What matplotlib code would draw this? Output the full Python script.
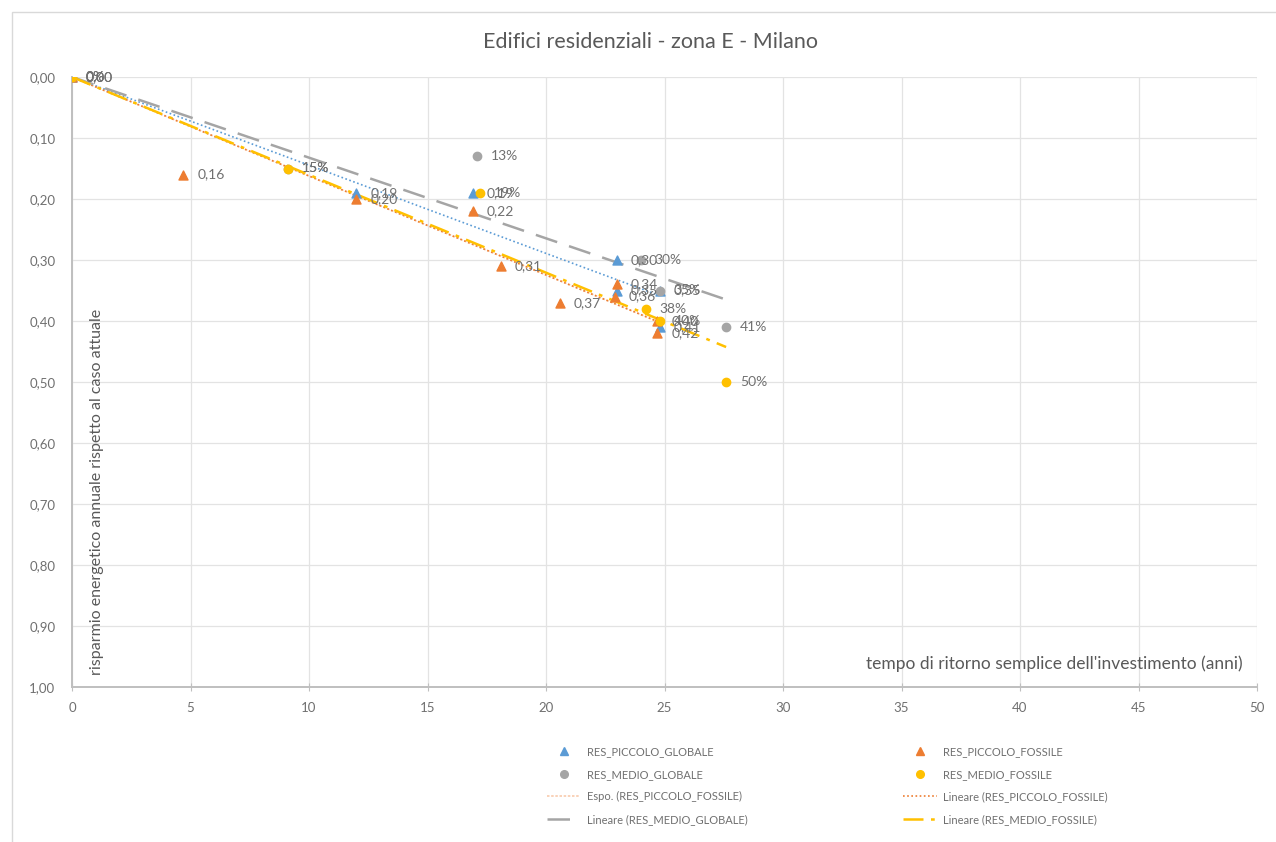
import numpy as np
import matplotlib.pyplot as plt
from matplotlib.patches import Rectangle
from matplotlib.lines import Line2D
from matplotlib.ticker import FuncFormatter

plt.rcParams['font.family'] = ['Lato', 'DejaVu Sans']

# tempo di ritorno (anni) e risparmio energetico per ciascuna serie
piccolo_globale_x = [0, 12.0, 16.9, 23.0, 23.0, 24.8, 24.8]
piccolo_globale_y = [0, 0.19, 0.19, 0.30, 0.35, 0.35, 0.41]

piccolo_fossile_x = [0, 4.7, 12.0, 16.9, 18.1, 20.6, 22.9, 23.0, 24.7, 24.7]
piccolo_fossile_y = [0, 0.16, 0.20, 0.22, 0.31, 0.37, 0.36, 0.34, 0.40, 0.42]

medio_globale_x = [0, 9.1, 17.1, 24.0, 24.8, 27.6]
medio_globale_y = [0, 0.15, 0.13, 0.30, 0.35, 0.41]

medio_fossile_x = [0, 9.1, 17.2, 24.2, 24.8, 27.6]
medio_fossile_y = [0, 0.15, 0.19, 0.38, 0.40, 0.50]

x_ticks = np.arange(0, 51, 5)
y_ticks = np.arange(0, 1.01, 0.1)

c_blue = '#5B9BD5'
c_orange = '#ED7D31'
c_gray = '#A5A5A5'
c_yellow = '#FFC000'
c_text = '#595959'
c_label = '#707070'


def slope_origin(x, y):
    # retta di tendenza con intercetta = 0
    x = np.asarray(x)
    y = np.asarray(y)
    return (x * y).sum() / (x * x).sum()


fig = plt.figure(figsize=(12.76, 8.42), dpi=100)
ax = fig.add_axes([72 / 1276, 1 - 687 / 842, (1257 - 72) / 1276, (687 - 77) / 842])

# cornice dell'area grafico
fig.patches.append(Rectangle((12 / 1276, -0.01), 1.2, 1 - 12 / 842 + 0.01,
                             transform=fig.transFigure, fill=False,
                             edgecolor='#D9D9D9', lw=1.0))

# rette di tendenza
def trend(x, y, **kw):
    k = slope_origin(x, y)
    xx = np.array([0, max(x)])
    return ax.plot(xx, k * xx, **kw)[0]

t_espo = trend(piccolo_fossile_x, piccolo_fossile_y, color='#F8CBAD', lw=1.2,
               linestyle=(0, (1.5, 1)), zorder=2)
t_pg = trend(piccolo_globale_x, piccolo_globale_y, color=c_blue, lw=1.2,
             linestyle=(0, (1, 1.5)), zorder=2)
t_pf = trend(piccolo_fossile_x, piccolo_fossile_y, color=c_orange, lw=1.2,
             linestyle=(0, (1, 1.5)), zorder=2)
t_mg = trend(medio_globale_x, medio_globale_y, color=c_gray, lw=1.8,
             linestyle=(0, (9, 5)), zorder=2)
t_mf = trend(medio_fossile_x, medio_fossile_y, color=c_yellow, lw=1.8,
             linestyle=(0, (8, 3, 1.5, 3)), zorder=2)

# punti
s_pg = ax.scatter(piccolo_globale_x, piccolo_globale_y, marker='^', s=42, color=c_blue, zorder=4)
s_pf = ax.scatter(piccolo_fossile_x, piccolo_fossile_y, marker='^', s=42, color=c_orange, zorder=4)
s_mg = ax.scatter(medio_globale_x, medio_globale_y, marker='o', s=36, color=c_gray, zorder=4)
s_mf = ax.scatter(medio_fossile_x, medio_fossile_y, marker='o', s=36, color=c_yellow, zorder=4)

# etichette dati
for xs, ys in [(piccolo_globale_x, piccolo_globale_y), (piccolo_fossile_x, piccolo_fossile_y)]:
    for x, y in zip(xs, ys):
        ax.annotate(f'{y:.2f}'.replace('.', ','), (x, y), xytext=(10, 0),
                    textcoords='offset points', va='center', ha='left',
                    fontsize=10, color=c_label, zorder=5)
for xs, ys in [(medio_globale_x, medio_globale_y), (medio_fossile_x, medio_fossile_y)]:
    for x, y in zip(xs, ys):
        ax.annotate(f'{y * 100:.0f}%', (x, y), xytext=(10, 0),
                    textcoords='offset points', va='center', ha='left',
                    fontsize=10, color=c_label, zorder=5)

ax.set_xlim(0, 50)
ax.set_ylim(1, 0)
ax.set_xticks(x_ticks)
ax.set_yticks(y_ticks)
ax.yaxis.set_major_formatter(FuncFormatter(lambda v, p: f'{v:.2f}'.replace('.', ',')))
ax.grid(True, color='#E3E3E3', lw=0.9)
ax.set_axisbelow(True)
for s in ['top', 'right']:
    ax.spines[s].set_visible(False)
for s in ['left', 'bottom']:
    ax.spines[s].set_color('#BFBFBF')
    ax.spines[s].set_linewidth(1.4)
ax.tick_params(axis='x', direction='inout', length=6, color='#BFBFBF', labelcolor=c_label,
               labelsize=9.5, pad=8)
ax.tick_params(axis='y', length=0, labelcolor=c_label, labelsize=9.5, pad=12)

fig.text(650 / 1276, 1 - 42 / 842, 'Edifici residenziali - zona E - Milano',
         ha='center', va='center', fontsize=15.5, color=c_text)

ax.text(0.015, 0.02, 'risparmio energetico annuale rispetto al caso attuale',
        transform=ax.transAxes, rotation=90, ha='left', va='bottom',
        fontsize=11.5, color=c_text)
ax.text(0.988, 0.025, "tempo di ritorno semplice dell'investimento (anni)",
        transform=ax.transAxes, ha='right', va='bottom', fontsize=12.5, color=c_text)

# legenda in basso su due colonne
h_pg = Line2D([], [], marker='^', color=c_blue, linestyle='none', markersize=6)
h_pf = Line2D([], [], marker='^', color=c_orange, linestyle='none', markersize=6)
h_mg = Line2D([], [], marker='o', color=c_gray, linestyle='none', markersize=5.5)
h_mf = Line2D([], [], marker='o', color=c_yellow, linestyle='none', markersize=5.5)
handles = [h_pg, h_mg, t_espo, t_mg, h_pf, h_mf, t_pf, t_mf]
labels = ['RES_PICCOLO_GLOBALE', 'RES_MEDIO_GLOBALE', 'Espo. (RES_PICCOLO_FOSSILE)',
          'Lineare (RES_MEDIO_GLOBALE)', 'RES_PICCOLO_FOSSILE', 'RES_MEDIO_FOSSILE',
          'Lineare (RES_PICCOLO_FOSSILE)', 'Lineare (RES_MEDIO_FOSSILE)']
leg = fig.legend(handles, labels, ncol=2, loc='upper left',
                 bbox_to_anchor=(537 / 1276, 1 - 736 / 842), frameon=False,
                 fontsize=8, labelcolor=c_label, columnspacing=14, labelspacing=1.05,
                 handlelength=3, handletextpad=0.6)

fig.savefig('out.png', dpi=100)
